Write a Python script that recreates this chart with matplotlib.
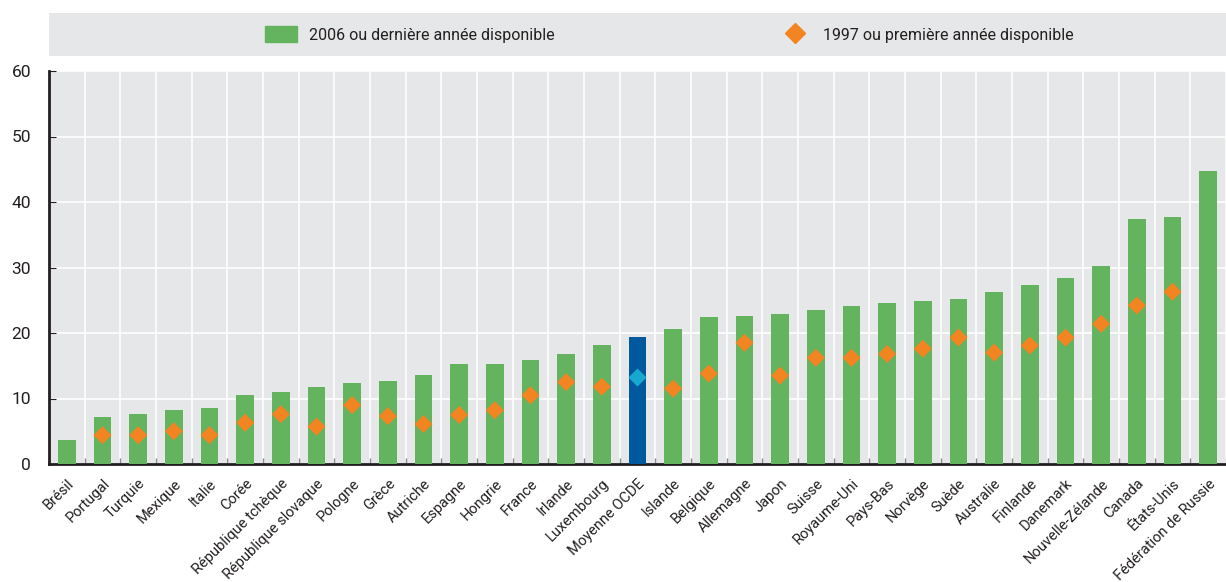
import numpy as np
import matplotlib
matplotlib.use('Agg')
import matplotlib.pyplot as plt
from matplotlib.patches import Patch
from matplotlib.lines import Line2D

plt.rcParams['font.family'] = ['Roboto', 'DejaVu Sans']

pays = ['Brésil', 'Portugal', 'Turquie', 'Mexique', 'Italie', 'Corée',
        'République tchèque', 'République slovaque', 'Pologne', 'Grèce',
        'Autriche', 'Espagne', 'Hongrie', 'France', 'Irlande', 'Luxembourg',
        'Moyenne OCDE', 'Islande', 'Belgique', 'Allemagne', 'Japon', 'Suisse',
        'Royaume-Uni', 'Pays-Bas', 'Norvège', 'Suède', 'Australie', 'Finlande',
        'Danemark', 'Nouvelle-Zélande', 'Canada', 'États-Unis',
        'Fédération de Russie']
val_2006 = [3.7, 7.2, 7.6, 8.2, 8.6, 10.5, 11.0, 11.8, 12.4, 12.7,
            13.6, 15.3, 15.3, 15.9, 16.8, 18.2, 19.4, 20.6, 22.4, 22.6,
            22.9, 23.5, 24.1, 24.6, 24.9, 25.2, 26.3, 27.3, 28.4, 30.2,
            37.4, 37.7, 44.7]
val_1997 = [np.nan, 4.4, 4.4, 5.0, 4.4, 6.3, 7.6, 5.7, 9.0, 7.3,
            6.1, 7.5, 8.2, 10.5, 12.5, 11.8, 13.2, 11.5, 13.8, 18.5,
            13.5, 16.2, 16.2, 16.8, 17.6, 19.3, 17.0, 18.1, 19.3, 21.4,
            24.2, 26.3, np.nan]

vert = '#63b35f'
orange = '#f28421'
bleu = '#00599c'
cyan = '#16a8cf'
fond = '#e6e7e8'
texte = '#231f20'

x = np.arange(len(pays))
couleurs_barres = [bleu if p == 'Moyenne OCDE' else vert for p in pays]
couleurs_pts = [cyan if p == 'Moyenne OCDE' else orange for p in pays]

fig = plt.figure(figsize=(12.26, 5.82), dpi=100)
ax = fig.add_axes([49/1226, 1 - 464/582, 1 - 49/1226, (464 - 71)/582])
ax.set_facecolor(fond)

ax.bar(x, val_2006, width=0.5, color=couleurs_barres, zorder=3)
ax.scatter(x, val_1997, marker='D', s=85, c=couleurs_pts, zorder=4, linewidths=0)

ax.set_xlim(-0.5, len(pays) - 0.5)
ax.set_ylim(0, 60)
ax.set_yticks(range(0, 61, 10))
ax.set_xticks(x)
ax.set_xticklabels(pays, rotation=45, ha='right', rotation_mode='anchor',
                   fontsize=10.5, color=texte)
ax.tick_params(axis='x', length=0, pad=9)
ax.tick_params(axis='y', labelsize=12.5, direction='in', length=5, color=texte,
               labelcolor=texte, pad=13)

# séparateurs entre pays
ax.set_xticks(np.arange(-0.5, len(pays), 1), minor=True)
ax.tick_params(axis='x', which='minor', direction='in', length=4, color='#8a8a8a', width=1)
ax.grid(axis='y', color='white', linewidth=1.2, zorder=0)
ax.grid(axis='x', which='minor', color='white', linewidth=1.2, zorder=0)
ax.grid(axis='x', which='major', visible=False)
ax.set_axisbelow(True)

for s in ['top', 'right']:
    ax.spines[s].set_visible(False)
for s in ['left', 'bottom']:
    ax.spines[s].set_color(texte)
    ax.spines[s].set_linewidth(2)

# bandeau de légende
axl = fig.add_axes([49/1226, 1 - 56/582, 1 - 49/1226, 43/582])
axl.set_facecolor(fond)
axl.set_xticks([])
axl.set_yticks([])
for s in axl.spines.values():
    s.set_visible(False)
handles = [Patch(color=vert, label='2006 ou dernière année disponible'),
           Line2D([], [], marker='D', linestyle='none', color=orange, markersize=10,
                  label='1997 ou première année disponible')]
axl.legend(handles=handles, loc='center', ncol=2, frameon=False, fontsize=11.5,
           columnspacing=14, handlelength=2.0, handleheight=1.1, handletextpad=0.8,
           bbox_to_anchor=(0.527, 0.5), labelcolor=texte)

fig.savefig('out.png', dpi=100)
